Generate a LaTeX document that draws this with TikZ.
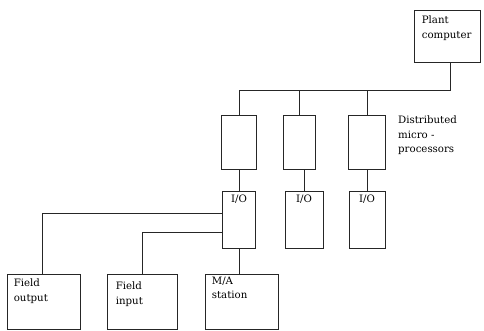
\documentclass[tikz,border=0pt]{standalone}
\usepackage{fontspec}
\setmainfont{DejaVu Serif}
\usetikzlibrary{positioning}

\begin{document}
\begin{tikzpicture}[
  x=1pt, y=-1pt,
  unit/.style   = {rectangle, draw=black!85, line width=0.7pt, inner sep=0pt},
  cpubox/.style = {unit, minimum width=35pt, minimum height=54pt},
  iobox/.style  = {unit, minimum width=36pt, minimum height=57pt},
  endbox/.style = {unit, minimum width=72pt, minimum height=55pt},
  tag/.style    = {font=\fontsize{10.2}{14.5}\selectfont, align=left,
                   anchor=north west, inner sep=0pt},
  link/.style   = {draw=black!85, line width=0.7pt},
]
\useasboundingbox (0,0) rectangle (484,330);

%% -- plant computer and bus ---------------------------------------
\node[unit, minimum width=66pt, minimum height=52pt] (plant) at (447,36) {};
\node[tag] (plantlbl) at ([xshift=8pt,yshift=-6pt]plant.north west) {Plant\\computer};
\coordinate (bus) at (0,90);

%% -- distributed microprocessors ----------------------------------
\node[cpubox] (cpu1) at (239,142) {};
\node[cpubox, minimum width=32pt] (cpu2) at (299,142) {};
\node[cpubox, minimum width=37pt] (cpu3) at (367,142) {};
\node[tag] (cpulbl) at (398,116) {Distributed\\micro -\\processors};

%% -- I/O units ----------------------------------------------------
\node[iobox, minimum width=33pt, below=22pt of cpu1] (io1) {};
\node[iobox, minimum width=38pt, below=22pt of cpu2, xshift=5pt] (io2) {};
\node[iobox, below=22pt of cpu3] (io3) {};
\foreach \n in {1,2,3}
  \node[tag, anchor=north] (io\n lbl) at ([yshift=-3pt]io\n.north) {I/O};

%% -- field side ---------------------------------------------------
\node[endbox, minimum width=73pt] (fout) at (43.5,301.5) {};
\node[endbox, minimum width=70pt] (fin)  at (142,301.5) {};
\node[endbox, minimum width=73pt] (ma)   at (241.5,301.5) {};
\node[tag] (foutlbl) at ([xshift=7pt,yshift=-5pt]fout.north west) {Field\\output};
\node[tag] (finlbl)  at ([xshift=9pt,yshift=-8pt]fin.north west) {Field\\input};
\node[tag] (malbl)   at ([xshift=7pt,yshift=-3pt]ma.north west) {M/A\\station};

%% -- connections --------------------------------------------------
\draw[link] ([xshift=3pt]plant.south) |- (cpu1.north |- bus) -- (cpu1.north);
\draw[link] (cpu2.north |- bus) -- (cpu2.north);
\draw[link] (cpu3.north |- bus) -- (cpu3.north);

\draw[link] (cpu1.south) -- (io1.north);
\draw[link] (io2.north |- cpu2.south) -- (io2.north);
\draw[link] (cpu3.south) -- (io3.north);

\draw[link] ([yshift=6.5pt]io1.west) -| ([xshift=-1.5pt]fout.north);
\draw[link] ([yshift=-12.5pt]io1.west) -| (fin.north);
\draw[link] (io1.south) -- (io1.south |- ma.north);

\end{tikzpicture}
\end{document}
